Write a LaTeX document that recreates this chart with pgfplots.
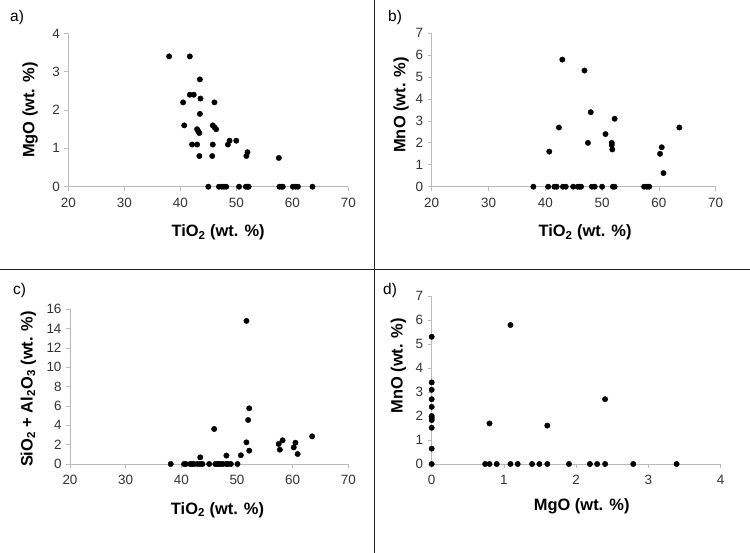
\documentclass[border=0pt]{standalone}
\usepackage{fontspec}
\setmainfont{Liberation Sans}
\usepackage{pgfplots}
\pgfplotsset{compat=1.18}
\definecolor{axgrey}{HTML}{BBBBBB}
\definecolor{tickgrey}{HTML}{333333}
\pgfplotsset{
  panel/.style={
    scale only axis, anchor=south west,
    axis x line=bottom, axis y line=left,
    axis line style={axgrey, line width=0.8bp, -},
    tick style={axgrey, line width=0.8bp},
    tick align=outside, major tick length=4bp,
    ticklabel style={font=\fontsize{13.5}{13.5}\selectfont, text=tickgrey},
    xticklabel style={yshift=-4bp},
    yticklabel style={xshift=-1bp},
    /pgf/number format/assume math mode=true,
    label style={font=\fontsize{16.5}{16.5}\selectfont\bfseries},
    clip=false,
  },
  dots/.style={only marks, mark=*, mark size=2.7bp, color=black, mark options={fill=black, draw=black}},
}
\begin{document}
\begin{tikzpicture}
\path[use as bounding box] (0bp,0bp) rectangle (750bp,553bp);
\fill[white] (0bp,0bp) rectangle (750bp,553bp);
% separators
\draw[line width=1bp, black!85] (374.5bp,0bp) -- (374.5bp,553bp);
\draw[line width=1bp, black!85] (0bp,283bp) -- (750bp,283bp);
% panel labels
\node[anchor=base west, font=\fontsize{15.5}{15.5}\selectfont, inner sep=0] at (10bp,531bp) {a)};
\node[anchor=base west, font=\fontsize{15.5}{15.5}\selectfont, inner sep=0] at (388bp,531bp) {b)};
\node[anchor=base west, font=\fontsize{15.5}{15.5}\selectfont, inner sep=0] at (13bp,258bp) {c)};
\node[anchor=base west, font=\fontsize{15.5}{15.5}\selectfont, inner sep=0] at (383bp,258bp) {d)};

% ---- a) ----
\begin{axis}[panel, at={(68.3bp,366.3bp)}, width=280bp, height=153.3bp,
  xmin=20, xmax=70, ymin=0, ymax=4, xtick={20,30,...,70}, ytick={0,1,...,4},
  xlabel={TiO\textsubscript{2} (wt. \%)}, ylabel={MgO (wt. \%)},
  xlabel style={at={(axis description cs:0.535,-0.30)}, anchor=center},
  ylabel style={at={(axis description cs:-0.136,0.5)}, anchor=center}]
\addplot[dots] coordinates {
(38.0,3.4) (41.7,3.4) (43.5,2.8) (41.7,2.4) (42.4,2.4) (43.6,2.3) (40.5,2.2) (46.1,2.2)
(43.5,1.9) (40.7,1.6) (45.8,1.6) (46.1,1.55) (46.4,1.5) (43.0,1.5) (43.2,1.45) (43.4,1.4)
(42.1,1.1) (43.0,1.1) (45.8,1.1) (48.5,1.1) (48.8,1.2) (50.0,1.2) (51.8,0.8) (52.0,0.9)
(43.4,0.8) (45.7,0.8) (57.6,0.75)
(45.0,0) (46.9,0) (47.4,0) (47.8,0) (48.2,0) (50.5,0) (51.7,0) (52.0,0) (52.2,0)
(57.7,0) (58.1,0) (58.3,0) (60.1,0) (60.6,0) (61.0,0) (63.6,0)
};
\end{axis}

% ---- b) ----
\begin{axis}[panel, at={(431.7bp,366.3bp)}, width=284bp, height=153.4bp,
  xmin=20, xmax=70, ymin=0, ymax=7, xtick={20,30,...,70}, ytick={0,1,...,7},
  xlabel={TiO\textsubscript{2} (wt. \%)}, ylabel={MnO (wt. \%)},
  xlabel style={at={(axis description cs:0.54,-0.30)}, anchor=center},
  ylabel style={at={(axis description cs:-0.108,0.533)}, anchor=center}]
\addplot[dots] coordinates {
(43.0,5.8) (46.9,5.3) (48.0,3.4) (52.2,3.1) (42.4,2.7) (63.6,2.7) (50.6,2.4) (47.5,2.0)
(51.7,2.0) (51.7,1.9) (51.8,1.7) (60.5,1.8) (60.2,1.5) (40.7,1.6) (60.8,0.62)
(37.9,0) (40.5,0) (41.6,0) (42.0,0) (43.1,0) (43.6,0) (44.9,0) (45.7,0) (46.0,0) (46.3,0)
(48.2,0) (48.7,0) (50.0,0) (51.9,0) (52.2,0) (57.4,0) (57.9,0) (58.3,0)
};
\end{axis}

% ---- c) ----
\begin{axis}[panel, at={(70bp,89bp)}, width=278.3bp, height=154.7bp,
  xmin=20, xmax=70, ymin=0, ymax=16, xtick={20,30,...,70}, ytick={0,2,...,16},
  xlabel={TiO\textsubscript{2} (wt. \%)}, ylabel={SiO\textsubscript{2} + Al\textsubscript{2}O\textsubscript{3} (wt. \%)},
  xlabel style={at={(axis description cs:0.53,-0.297)}, anchor=center},
  ylabel style={at={(axis description cs:-0.15,0.485)}, anchor=center}]
\addplot[dots] coordinates {
(51.7,14.8) (52.2,5.76) (52.0,4.55) (45.9,3.62) (63.5,2.86) (58.2,2.45) (57.5,2.07) (60.5,2.2)
(60.2,1.72) (51.7,2.24) (52.2,1.38) (57.7,1.48) (60.9,1.03) (50.7,0.9) (48.1,0.87) (43.4,0.69)
(38.1,0) (40.5,0) (40.8,0) (41.6,0) (41.9,0) (42.3,0) (42.9,0) (43.4,0) (43.8,0) (45.0,0)
(46.1,0) (46.4,0) (46.7,0) (47.1,0) (47.5,0) (48.1,0) (48.4,0) (48.9,0) (50.1,0)
};
\end{axis}

% ---- d) ----
\begin{axis}[panel, at={(431.7bp,89bp)}, width=289bp, height=168bp,
  xmin=0, xmax=4, ymin=0, ymax=7, xtick={0,1,...,4}, ytick={0,1,...,7},
  xlabel={MgO (wt. \%)}, ylabel={MnO (wt. \%)},
  xlabel style={at={(axis description cs:0.519,-0.25)}, anchor=center},
  ylabel style={at={(axis description cs:-0.115,0.585)}, anchor=center}]
\addplot[dots] coordinates {
(1.09,5.79) (0,5.3) (0,3.4) (0,3.09) (0,2.7) (0,2.38) (0,2.0) (0,1.92) (0,1.83) (0,1.51)
(0,0.64) (0,0) (2.40,2.7) (0.80,1.69) (1.60,1.6)
(0.74,0) (0.80,0) (0.90,0) (1.09,0) (1.19,0) (1.39,0) (1.49,0) (1.60,0) (1.90,0)
(2.19,0) (2.29,0) (2.40,0) (2.79,0) (3.39,0)
};
\end{axis}
\end{tikzpicture}
\end{document}
